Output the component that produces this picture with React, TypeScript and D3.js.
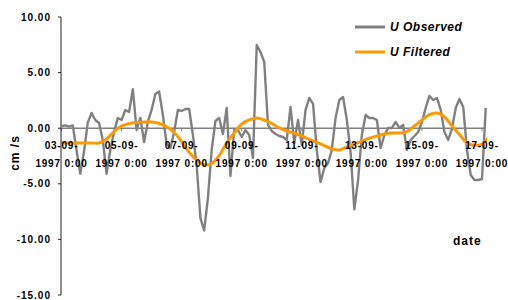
import * as d3 from "d3";

// observed U, one value every 3 hours from 03-09-1997 0:00
const observedStepHours = 3;
const observed = [
  0.2, 0.25, 0.15, 0.25, -1.96, -4.1, -2.1, 0.5, 1.37, 0.74,
  0.47, -1.06, -4.1, -1.96, -0.35, 0.92, 0.74, 1.64, 1.46, 3.5,
  -0.16, 0.92, -1.24, 0.56, 1.64, 3.08, 3.3, 1.19, -1.42, -1.78,
  -0.34, 1.64, 1.55, 1.73, 1.73, -0.61, -3.31, -8.08, -9.2, -6.28,
  -1.96, 0.65, 0.92, -0.52, 1.82, -4.3, -0.16, -0.16, -0.79, -0.16,
  -0.61, -2.68, 7.48, 6.85, 5.95, 0.29, -0.25, -0.52, -0.7, -0.79,
  -1.06, 1.91, -1.33, 0.74, -1.51, 1.64, 2.72, 2.18, -1.96, -4.84,
  -3.58, -3.13, -1.96, 0.92, 2.54, 2.81, 0.74, -2.14, -7.3, -4.66,
  -0.61, 1.19, 0.92, 0.92, 0.74, -1.78, -0.61, 0.02, 0.02, 0.56,
  0.02, 0.29, -1.96, -1.06, -0.7, -0.34, 0.56, 1.82, 2.9, 2.54,
  2.72, 1.64, -0.34, -1.06, -0.07, 1.82, 2.63, 1.91, -1.96, -4.21,
  -4.66, -4.66, -4.57, 1.82,
];

// filtered U, one value every 6 hours
const filteredStepHours = 6;
const filtered = [
  -1.33, -1.33, -1.33, -1.33, -1.33, -1.33, -0.97, -0.3, 0.2, 0.41,
  0.51, 0.56, 0.56, 0.42, 0.13, -0.39, -1.21, -2.18, -2.86, -3.29,
  -3.17, -2.46, -1.33, -0.43, 0.38, 0.74, 0.92, 0.74, 0.42, 0.02,
  -0.25, -0.47, -0.7, -1.02, -1.28, -1.56, -1.87, -1.96, -1.69, -1.42,
  -1.17, -0.9, -0.7, -0.52, -0.44, -0.43, -0.3, 0.2, 0.74, 1.23,
  1.37, 1.01, 0.2, -0.57, -1.33, -1.54, -1.42, -0.7,
];

const dateLabels = ["03-09-", "05-09-", "07-09-", "09-09-", "11-09-", "13-09-", "15-09-", "17-09-"];
const yTicks = [10, 5, 0, -5, -10, -15];
const seriesNames = ["U Observed", "U Filtered"];

const W = 508;
const H = 300;
const font = "Arial, 'Liberation Sans', sans-serif";
const gray = "#808080";
const orange = "#FF9900";

export default function App() {
  const endHours = (observed.length - 1) * observedStepHours;
  const x = d3.scaleLinear().domain([0, endHours]).range([61.5, 485.75]);
  const y = d3.scaleLinear().domain([-15, 10]).range([295, 17]);

  const obsLine = d3
    .line<number>()
    .x((_, i) => x(i * observedStepHours))
    .y((d) => y(d));
  const filtLine = d3
    .line<number>()
    .x((_, i) => x(i * filteredStepHours))
    .y((d) => y(d))
    .curve(d3.curveCatmullRom);

  const labelHours = dateLabels.map((_, i) => i * 48);

  return (
    <div style={{ position: "fixed", left: 0, top: 0, background: "#fff" }}>
      <svg width={W} height={H} style={{ display: "block", fontFamily: font }}>
        <defs>
          <clipPath id="plot-clip">
            <rect x={x(0)} y={0} width={x(endHours) - x(0) + 1.5} height={H} />
          </clipPath>
        </defs>

        {/* zero line */}
        <line x1={x(0)} x2={x(endHours)} y1={y(0)} y2={y(0)} stroke={gray} strokeWidth={1.5} />
        {labelHours.map((h) => (
          <line key={h} x1={x(h)} x2={x(h)} y1={y(0)} y2={y(0) + 3} stroke={gray} strokeWidth={1} />
        ))}

        {/* series */}
        <g clipPath="url(#plot-clip)">
          <path d={obsLine(observed) ?? ""} fill="none" stroke={gray} strokeWidth={2.4} strokeLinejoin="round" />
          <path d={filtLine(filtered) ?? ""} fill="none" stroke={orange} strokeWidth={3} strokeLinejoin="round" strokeLinecap="round" />
        </g>

        {/* y axis */}
        <line x1={61} x2={61} y1={y(10)} y2={y(-15)} stroke="#222" strokeWidth={1} />
        {yTicks.map((t) => (
          <g key={t}>
            <line x1={58} x2={61} y1={y(t)} y2={y(t)} stroke="#222" strokeWidth={1} />
            <text
              x={51}
              y={y(t)}
              dy="0.35em"
              textAnchor="end"
              fontSize={10}
              fontWeight="bold"
              letterSpacing={1}
            >
              {t.toFixed(2)}
            </text>
          </g>
        ))}

        {/* date labels */}
        {dateLabels.map((lab, i) => (
          <text
            key={lab}
            x={x(labelHours[i])}
            textAnchor="middle"
            fontSize={10}
            fontWeight="bold"
            letterSpacing={0.8}
          >
            <tspan x={x(labelHours[i])} y={149}>
              {lab}
            </tspan>
            <tspan x={x(labelHours[i])} y={167}>
              1997 0:00
            </tspan>
          </text>
        ))}

        {/* axis titles */}
        <text
          transform={`translate(18.5,153) rotate(-90)`}
          textAnchor="middle"
          fontSize={12}
          fontWeight="bold"
          letterSpacing={1}
        >
          cm /s
        </text>
        <text x={453} y={245} fontSize={12} fontWeight="bold" letterSpacing={1}>
          date
        </text>

        {/* legend */}
        {seriesNames.map((name, i) => (
          <g key={name}>
            <line
              x1={355}
              x2={385}
              y1={27 + i * 25}
              y2={27 + i * 25}
              stroke={i === 0 ? gray : orange}
              strokeWidth={3}
            />
            <text
              x={390}
              y={27 + i * 25}
              dy="0.35em"
              fontSize={12}
              fontWeight="bold"
              fontStyle="italic"
              letterSpacing={0.5}
            >
              {name}
            </text>
          </g>
        ))}
      </svg>
    </div>
  );
}
